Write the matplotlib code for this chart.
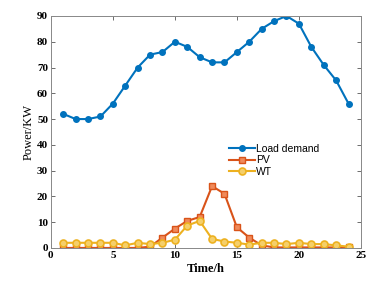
import matplotlib
matplotlib.use("Agg")
import matplotlib.pyplot as plt

hours = list(range(1, 25))
load = [52, 50, 50, 51, 56, 63, 70, 75, 76, 80, 78, 74, 72, 72, 76, 80, 85, 88, 90, 87, 78, 71, 65, 56]
pv = [0, 0, 0, 0, 0, 0, 0, 0.5, 4, 7.5, 10.5, 12, 24, 21, 8, 4, 1, 0.2, 0.2, 0.2, 0.2, 0.2, 0.2, 0.2]
wt = [2, 2, 2, 2, 2, 1, 2, 1.5, 2, 3.2, 8.7, 10.5, 3.5, 2.5, 2, 1.3, 2, 2, 1.5, 2, 1.5, 1.5, 1, 0.5]
xticks = [0, 5, 10, 15, 20, 25]
yticks = [0, 10, 20, 30, 40, 50, 60, 70, 80, 90]

fig = plt.figure(figsize=(3.74, 2.85), dpi=100)
ax = fig.add_axes([0.136, 0.130, 0.829, 0.814])

ax.plot(hours, load, color="#0072BD", lw=1.5, marker="o", ms=4, mfc="#0072BD", label="Load demand")
ax.plot(hours, pv, color="#D95319", lw=1.5, marker="s", ms=4, mfc="#F08A5A", label="PV")
ax.plot(hours, wt, color="#EDB120", lw=1.5, marker="o", ms=5, mfc="#F5CF6A", mew=1.2, label="WT")

ax.set_xlim(0, 25)
ax.set_ylim(0, 90)
ax.set_xticks(xticks)
ax.set_yticks(yticks)
serif = {"family": "Liberation Serif", "weight": "bold", "size": 8}
ax.set_xticklabels([str(t) for t in xticks], fontdict=serif)
ax.set_yticklabels([str(t) for t in yticks], fontdict=serif)
ax.set_xlabel("Time/h", fontdict={"family": "Liberation Serif", "weight": "bold", "size": 9}, labelpad=2)
ax.set_ylabel("Power/KW", fontdict={"family": "Liberation Serif", "size": 9}, labelpad=2)
ax.tick_params(direction="in", top=True, right=True, length=3, width=0.6, colors="#555555", labelcolor="black", pad=2)
for s in ax.spines.values():
    s.set_color("#888888")
    s.set_linewidth(0.7)

ax.legend(loc="upper right", bbox_to_anchor=(0.89, 0.48), frameon=False,
          prop={"family": "Liberation Sans", "size": 7.5}, handlelength=2.5,
          handletextpad=0.1, labelspacing=0.15, borderpad=0.2)

fig.savefig("out.png", dpi=100)
